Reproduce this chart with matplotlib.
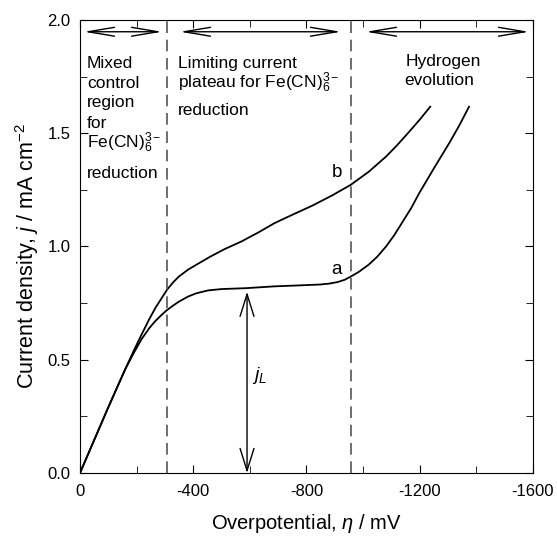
import matplotlib
matplotlib.use("Agg")
import matplotlib.pyplot as plt
from matplotlib.ticker import MultipleLocator, FormatStrFormatter

plt.rcParams['font.family'] = ['Liberation Sans', 'DejaVu Sans']
plt.rcParams['mathtext.fontset'] = 'custom'
plt.rcParams['mathtext.rm'] = 'Liberation Sans'
plt.rcParams['mathtext.it'] = 'Liberation Sans:italic'
plt.rcParams['axes.unicode_minus'] = False

# curve a
eta_a = [0, -50, -100, -159, -190, -217, -245, -267, -290, -308, -330, -350,
         -382, -410, -452, -500, -587, -687, -770, -847, -880, -910, -935,
         -956, -985, -1020, -1050, -1081, -1110, -1140, -1170, -1198, -1250,
         -1304, -1340, -1374]
j_a = [0, 0.145, 0.29, 0.456, 0.53, 0.59, 0.64, 0.672, 0.70, 0.72, 0.74, 0.757,
       0.779, 0.793, 0.806, 0.812, 0.816, 0.824, 0.828, 0.832, 0.836, 0.843,
       0.853, 0.867, 0.888, 0.92, 0.955, 1.00, 1.05, 1.11, 1.17, 1.235, 1.345,
       1.456, 1.535, 1.617]

# curve b
eta_b = [0, -50, -100, -159, -190, -217, -245, -267, -290, -308, -330, -350,
         -382, -420, -460, -510, -570, -630, -687, -750, -820, -890, -956,
         -1020, -1081, -1120, -1163, -1200, -1237]
j_b = [0, 0.145, 0.29, 0.456, 0.54, 0.61, 0.68, 0.73, 0.775, 0.81, 0.843, 0.868,
       0.898, 0.926, 0.955, 0.988, 1.022, 1.062, 1.103, 1.14, 1.18, 1.225, 1.272,
       1.33, 1.397, 1.447, 1.507, 1.56, 1.617]

region_edges = [-308, -956]

fig = plt.figure(figsize=(5.57, 5.37), dpi=100)
ax = fig.add_axes([0.1436, 0.1192, 0.8133, 0.8436])

ax.plot(eta_a, j_a, color='black', lw=1.3)
ax.plot(eta_b, j_b, color='black', lw=1.3)

for e in region_edges:
    ax.axvline(e, color='#555555', lw=1.2, linestyle=(0, (7, 4)))

ax.set_xlim(0, -1600)
ax.set_ylim(0, 2.0)

ax.xaxis.set_major_locator(MultipleLocator(400))
ax.xaxis.set_minor_locator(MultipleLocator(200))
ax.yaxis.set_major_locator(MultipleLocator(0.5))
ax.yaxis.set_minor_locator(MultipleLocator(0.25))
ax.xaxis.set_major_formatter(FormatStrFormatter('%d'))
ax.yaxis.set_major_formatter(FormatStrFormatter('%.1f'))
ax.tick_params(which='both', direction='in', top=True, right=True, labelsize=12)
ax.tick_params(which='major', length=6)
ax.tick_params(which='minor', length=5)
ax.tick_params(axis='x', pad=8)
ax.tick_params(axis='y', pad=7)

ax.set_xlabel(r'Overpotential, $\eta$ / mV', fontsize=14.5, labelpad=9)
ax.set_ylabel(r'Current density, $j$ / mA cm$^{-2}$', fontsize=15.5)
ax.yaxis.set_label_coords(-0.085, 0.48)

# region arrows at the top
arr = dict(arrowstyle='<->,head_length=1.9,head_width=0.32', color='black',
           lw=1.0, shrinkA=0, shrinkB=0)
for x0, x1 in [(-14, -290), (-353, -922), (-1010, -1586)]:
    ax.annotate('', xy=(x1, 1.948), xytext=(x0, 1.948), arrowprops=arr)

# j_L arrow
ax.annotate('', xy=(-590, 0.80), xytext=(-590, 0.0),
            arrowprops=dict(arrowstyle='<->,head_length=1.6,head_width=0.5',
                            color='black', lw=1.0, shrinkA=0, shrinkB=0))
ax.text(-607, 0.43, r'$j_L$', fontsize=14, ha='left', va='center')

fs = 12.5
left_lines = [('Mixed', 1.788), ('control', 1.70), ('region', 1.616),
              ('for', 1.524), (r'Fe(CN)$_6^{3-}$', 1.436), ('reduction', 1.304)]
for s, y in left_lines:
    ax.text(-25, y, s, fontsize=fs, ha='left', va='baseline')

mid_lines = [('Limiting current', 1.788), (r'plateau for Fe(CN)$_6^{3-}$', 1.70),
             ('reduction', 1.58)]
for s, y in mid_lines:
    ax.text(-345, y, s, fontsize=fs, ha='left', va='baseline')

ax.text(-1149, 1.798, 'Hydrogen', fontsize=fs, ha='left', va='baseline')
ax.text(-1145, 1.713, 'evolution', fontsize=fs, ha='left', va='baseline')

ax.text(-909, 1.325, 'b', fontsize=13.5, ha='center', va='center')
ax.text(-905, 0.897, 'a', fontsize=13.5, ha='center', va='center')

fig.savefig('out.png', dpi=100)
